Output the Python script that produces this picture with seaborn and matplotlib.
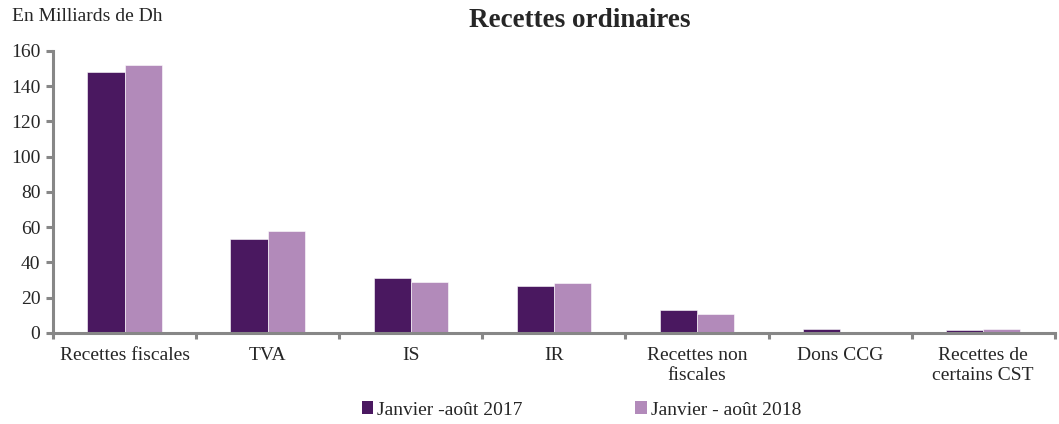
import pandas as pd
import numpy as np
import seaborn as sns
import matplotlib.pyplot as plt
from matplotlib.patches import Patch

# Data (Milliards de Dh)
categories = ["Recettes fiscales", "TVA", "IS", "IR", "Recettes non\nfiscales",
              "Dons CCG", "Recettes de\ncertains CST"]
series_names = ["Janvier -août 2017", "Janvier - août 2018"]
vals_2017 = [148.1, 53.3, 31.2, 26.7, 13.0, 2.3, 1.7]
vals_2018 = [152.0, 57.9, 28.9, 28.4, 10.8, 0.6, 2.2]
colors = ["#4A1860", "#B28ABA"]

df = pd.DataFrame({
    "cat": categories * 2,
    "serie": [series_names[0]] * len(categories) + [series_names[1]] * len(categories),
    "val": vals_2017 + vals_2018,
})

sns.set_style("white")
plt.rcParams["font.family"] = ["Liberation Serif", "DejaVu Serif"]

fig = plt.figure(figsize=(10.59, 4.24), dpi=100)
ax = fig.add_axes([0.05, 0.215, 0.946, 0.665])

sns.barplot(data=df, x="cat", y="val", hue="serie", palette=colors, saturation=1,
            width=0.52, gap=0, edgecolor="white", linewidth=0.4,
            legend=False, ax=ax)

grey = "#878787"
txt = "#262626"
ax.set_xlim(-0.5, len(categories) - 0.5)
ax.set_ylim(0, 160)
ax.set_yticks(np.arange(0, 161, 20))
ax.set_xlabel("")
ax.set_ylabel("")
for s in ["top", "right"]:
    ax.spines[s].set_visible(False)
for s in ["left", "bottom"]:
    ax.spines[s].set_color(grey)
    ax.spines[s].set_linewidth(2.2)

ax.set_xticks(np.arange(-0.5, len(categories)), minor=True)
ax.tick_params(axis="x", which="major", bottom=True, length=0, labelsize=14, pad=10)
ax.tick_params(axis="x", which="minor", bottom=True, length=4, width=2.2,
               color=grey, direction="out")
ax.tick_params(axis="y", left=True, length=5, width=2.2, color=grey, direction="out",
               labelsize=14, pad=4)
for lab in ax.get_xticklabels() + ax.get_yticklabels():
    lab.set_color(txt)
for lab in ax.get_xticklabels():
    lab.set_linespacing(1.25)

fig.text(0.011, 0.962, "En Milliards de Dh", fontsize=14, color=txt, va="center")
fig.text(0.547, 0.952, "Recettes ordinaires", fontsize=19.5, fontweight="bold",
         color=txt, ha="center", va="center")

handles = [Patch(facecolor=c, edgecolor="none") for c in colors]
fig.legend(handles, series_names, loc="center", bbox_to_anchor=(0.549, 0.033),
           ncol=2, frameon=False, fontsize=14, handlelength=0.6, handleheight=0.6,
           handletextpad=0.2, columnspacing=5.8)

fig.savefig("out.png", dpi=100)
